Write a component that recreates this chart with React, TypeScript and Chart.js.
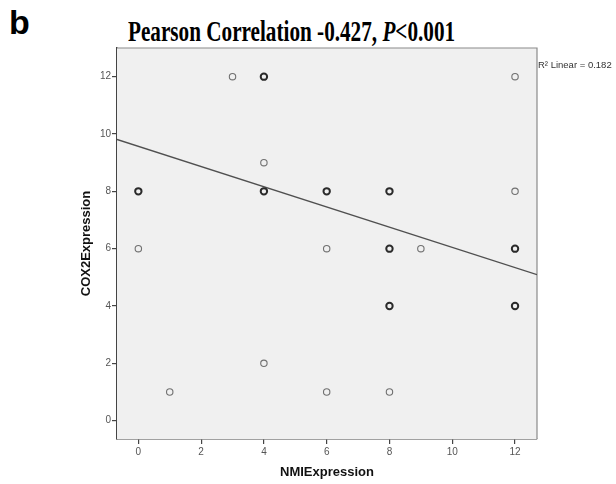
import React, { useEffect, useRef } from "react";
import { Chart, registerables } from "chart.js";

Chart.register(...registerables);

// NMI expression (x) and COX2 expression (y) for each plotted point
const nmiValues = [0, 0, 1, 3, 4, 4, 4, 4, 6, 6, 6, 8, 8, 8, 8, 9, 12, 12, 12, 12];
const cox2Values = [8, 6, 1, 12, 12, 9, 8, 2, 8, 6, 1, 8, 6, 4, 1, 6, 12, 8, 6, 4];
// overlapping cases drawn heavier (1 = single, 2 = multiple)
const overlapCounts = [2, 1, 1, 1, 2, 1, 2, 1, 2, 1, 1, 2, 2, 2, 1, 1, 1, 1, 2, 2];
// fitted linear regression line endpoints (at the axis edges)
const fitX = [-0.68, 12.7];
const fitY = [9.81, 5.09];
const xTicks = [0, 2, 4, 6, 8, 10, 12];
const yTicks = [0, 2, 4, 6, 8, 10, 12];
const xRange = [-0.68, 12.7];
const yRange = [-0.64, 13.0];
const rSquaredLabel = "R\u00b2 Linear = 0.182";

export default function App() {
  const ref = useRef<HTMLCanvasElement | null>(null);
  useEffect(() => {
    if (!ref.current) return;
    const frame = {
      id: "frame",
      beforeDatasetsDraw(chart: any) {
        const { ctx, chartArea: a } = chart;
        ctx.save();
        ctx.fillStyle = "#f0f0f0";
        ctx.fillRect(a.left, a.top, a.right - a.left, a.bottom - a.top);
        ctx.strokeStyle = "#8a8a8a";
        ctx.lineWidth = 1.2;
        ctx.beginPath();
        ctx.moveTo(a.left, a.top);
        ctx.lineTo(a.right, a.top);
        ctx.lineTo(a.right, a.bottom);
        ctx.stroke();
        ctx.restore();
      },
      afterDraw(chart: any) {
        const { ctx, chartArea: a } = chart;
        ctx.save();
        ctx.fillStyle = "#333";
        ctx.font = "9.5px 'Liberation Sans', Arial, sans-serif";
        ctx.textBaseline = "middle";
        ctx.textAlign = "left";
        ctx.fillText(rSquaredLabel, a.right + 1, a.top + 17);
        ctx.restore();
      },
    };
    const chart = new Chart(ref.current, {
      type: "scatter",
      data: {
        datasets: [
          {
            type: "scatter",
            data: nmiValues.map((x, i) => ({ x, y: cox2Values[i] })),
            pointRadius: 3.2,
            pointBackgroundColor: "rgba(0,0,0,0)",
            pointBorderColor: overlapCounts.map((c) => (c > 1 ? "#2a2a2a" : "#707070")),
            pointBorderWidth: overlapCounts.map((c) => (c > 1 ? 2 : 1.1)),
          },
          {
            type: "line",
            data: fitX.map((x, i) => ({ x, y: fitY[i] })),
            borderColor: "#505050",
            borderWidth: 1.3,
            pointRadius: 0,
            fill: false,
          } as any,
        ],
      },
      options: {
        animation: false,
        responsive: false,
        maintainAspectRatio: false,
        layout: { padding: { left: 0, top: 48, right: 79, bottom: 0 } },
        plugins: { legend: { display: false }, tooltip: { enabled: false }, title: { display: false } },
        scales: {
          x: {
            type: "linear",
            min: xRange[0],
            max: xRange[1],
            afterBuildTicks: (s: any) => {
              s.ticks = xTicks.map((v) => ({ value: v }));
            },
            afterFit: (s: any) => {
              s.height = 45;
            },
            grid: { drawOnChartArea: false, drawTicks: true, tickLength: 5, color: "#444", lineWidth: 1.2 },
            border: { display: true, color: "#444", width: 1.5 },
            ticks: {
              color: "#555",
              font: { family: "'Liberation Sans', Arial, sans-serif", size: 10 },
              padding: 2,
              maxRotation: 0,
            },
            title: {
              display: true,
              text: "NMIExpression",
              color: "#111",
              font: { family: "'Liberation Sans', Arial, sans-serif", size: 13, weight: "bold" },
              padding: { top: 0, bottom: 4 },
            },
          },
          y: {
            type: "linear",
            min: yRange[0],
            max: yRange[1],
            afterBuildTicks: (s: any) => {
              s.ticks = yTicks.map((v) => ({ value: v }));
            },
            afterFit: (s: any) => {
              s.width = 117;
            },
            grid: { drawOnChartArea: false, drawTicks: true, tickLength: 5, color: "#444", lineWidth: 1.2 },
            border: { display: true, color: "#444", width: 1.5 },
            ticks: {
              color: "#555",
              font: { family: "'Liberation Sans', Arial, sans-serif", size: 10 },
              padding: 1,
            },
            title: {
              display: true,
              text: "COX2Expression",
              color: "#111",
              font: { family: "'Liberation Sans', Arial, sans-serif", size: 13, weight: "bold" },
              padding: { top: 79, bottom: 0 },
            },
          },
        },
      },
      plugins: [frame],
    } as any);
    return () => chart.destroy();
  }, []);

  return (
    <div style={{ position: "absolute", left: 0, top: 0, width: 616, height: 484, background: "#fff", overflow: "hidden" }}>
      <div
        style={{
          position: "absolute",
          left: 9,
          top: 0,
          fontFamily: "'Liberation Sans', Arial, sans-serif",
          fontWeight: "bold",
          fontSize: 34,
          lineHeight: "44px",
          color: "#000",
        }}
      >
        b
      </div>
      <div
        style={{
          position: "absolute",
          left: 128,
          top: 12,
          fontFamily: "'Liberation Serif', 'Times New Roman', serif",
          fontWeight: "bold",
          fontSize: 21.2,
          lineHeight: "40px",
          whiteSpace: "nowrap",
          color: "#000",
          transform: "scaleY(1.35)",
          transformOrigin: "left center",
        }}
      >
        Pearson Correlation -0.427, <i>P</i>&lt;0.001
      </div>
      <canvas ref={ref} width={616} height={484} style={{ position: "absolute", left: 0, top: 0 }} />
    </div>
  );
}
